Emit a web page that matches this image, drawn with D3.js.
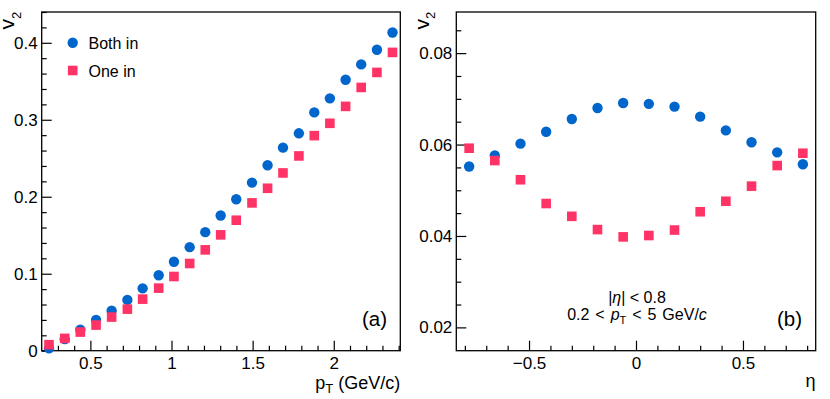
<!DOCTYPE html>
<html>
<head>
<meta charset="utf-8">
<script src="https://cdn.jsdelivr.net/npm/d3@7"></script>
<style>
  body { margin: 0; background: #fff; }
  svg { display: block; font-family: "Liberation Sans", Arial, Helvetica, sans-serif; }
</style>
</head>
<body>
<div id="chart"></div>
<script>
// pT dependence (panel a)
let ptBins = [0.245, 0.342, 0.438, 0.535, 0.631, 0.728, 0.822, 0.921, 1.015, 1.112, 1.208, 1.303,
              1.399, 1.496, 1.592, 1.687, 1.785, 1.880, 1.976, 2.073, 2.169, 2.266, 2.362];
let v2PtBoth = [0.003, 0.015, 0.0272, 0.040, 0.052, 0.066, 0.081, 0.098, 0.1155, 0.1345, 0.154, 0.1756,
                0.1968, 0.2184, 0.2409, 0.2638, 0.2824, 0.3096, 0.3278, 0.352, 0.3719, 0.391, 0.4134];
let v2PtOne = [0.0078, 0.016, 0.0242, 0.0333, 0.0437, 0.054, 0.067, 0.0813, 0.0964, 0.1133, 0.131, 0.1505,
               0.1695, 0.192, 0.211, 0.2309, 0.253, 0.2794, 0.2954, 0.3174, 0.342, 0.3615, 0.3875];

// eta dependence (panel b)
let etaBins = [-0.78, -0.66, -0.54, -0.42, -0.30, -0.18, -0.06, 0.06, 0.18, 0.30, 0.42, 0.54, 0.66, 0.78];
let v2EtaBoth = [0.0552, 0.0576, 0.0602, 0.0628, 0.0656, 0.0680, 0.0691, 0.0689, 0.0683, 0.0661, 0.0631, 0.0605, 0.0583, 0.0557];
let v2EtaOne = [0.0592, 0.0565, 0.0523, 0.0471, 0.0443, 0.0414, 0.0398, 0.0401, 0.0413, 0.0453, 0.0476, 0.0509, 0.0554, 0.0581];

// ticks
let ptMajor = [0.5, 1, 1.5, 2];
let ptMinor = [0.3, 0.4, 0.6, 0.7, 0.8, 0.9, 1.1, 1.2, 1.3, 1.4, 1.6, 1.7, 1.8, 1.9, 2.1, 2.2, 2.3, 2.4];
let v2PtMajor = [0, 0.1, 0.2, 0.3, 0.4];
let v2PtMinor = [0.02, 0.04, 0.06, 0.08, 0.12, 0.14, 0.16, 0.18, 0.22, 0.24, 0.26, 0.28, 0.32, 0.34, 0.36, 0.38, 0.42, 0.44];
let etaMajor = [-0.5, 0, 0.5];
let etaMinor = [-0.8, -0.7, -0.6, -0.4, -0.3, -0.2, -0.1, 0.1, 0.2, 0.3, 0.4, 0.6, 0.7, 0.8];
let v2EtaMajor = [0.02, 0.04, 0.06, 0.08];
let v2EtaMinor = [0.025, 0.03, 0.035, 0.045, 0.05, 0.055, 0.065, 0.07, 0.075, 0.085];

let seriesNames = ["Both in", "One in"];
let BLUE = "#0066cc";
let PINK = "#ff3366";

let W = 830, H = 399;
let TOP = 12, BOTTOM = 350.7;

let svg = d3.select("#chart").append("svg")
    .attr("width", W)
    .attr("height", H);

let fmt = d3.format("~g");

function drawPanel(opt) {
    let x = d3.scaleLinear().domain(opt.xDomain).range([opt.left, opt.right]);
    let y = d3.scaleLinear().domain(opt.yDomain).range([BOTTOM, TOP]);
    let g = svg.append("g");

    // ticks, pointing inward
    g.append("g").attr("transform", `translate(0,${BOTTOM})`)
        .call(d3.axisBottom(x).tickValues(opt.xMajor).tickSize(-10).tickPadding(6).tickFormat(fmt));
    g.append("g").attr("transform", `translate(0,${BOTTOM})`)
        .call(d3.axisBottom(x).tickValues(opt.xMinor).tickSize(-5).tickFormat(""));
    g.append("g").attr("transform", `translate(${opt.left},0)`)
        .call(d3.axisLeft(y).tickValues(opt.yMajor).tickSize(-10).tickPadding(4).tickFormat(fmt));
    g.append("g").attr("transform", `translate(${opt.left},0)`)
        .call(d3.axisLeft(y).tickValues(opt.yMinor).tickSize(-5).tickFormat(""));

    g.selectAll(".domain").remove();
    g.selectAll(".tick line").attr("stroke", "#000").attr("stroke-width", 1.2);
    g.selectAll(".tick text").attr("font-size", 17).attr("fill", "#000")
        .attr("font-family", "'Liberation Sans', Arial, sans-serif");

    // frame
    g.append("rect")
        .attr("x", opt.left).attr("y", TOP)
        .attr("width", opt.right - opt.left).attr("height", BOTTOM - TOP)
        .attr("fill", "none").attr("stroke", "#000").attr("stroke-width", 1.3);

    // points
    g.append("g").selectAll("circle")
        .data(opt.xs.map((d, i) => [d, opt.both[i]]))
        .enter().append("circle")
        .attr("cx", d => x(d[0]))
        .attr("cy", d => y(d[1]))
        .attr("r", 5.2)
        .attr("fill", BLUE);

    let s = 9.6;
    g.append("g").selectAll("rect")
        .data(opt.xs.map((d, i) => [d, opt.one[i]]))
        .enter().append("rect")
        .attr("x", d => x(d[0]) - s / 2)
        .attr("y", d => y(d[1]) - s / 2)
        .attr("width", s).attr("height", s)
        .attr("fill", PINK);

    // y title v2
    let yt = g.append("text")
        .attr("transform", `translate(${opt.left - 27.7},11.7) rotate(-90)`)
        .attr("text-anchor", "end")
        .attr("font-size", 21);
    yt.append("tspan").text("v");
    yt.append("tspan").attr("font-size", 13).attr("dy", 6.7).text("2");

    return {x: x, y: y, g: g};
}

// ---- panel (a)
let pa = drawPanel({
    left: 41.7, right: 400.3,
    xDomain: [0.2, 2.41], yDomain: [0, 0.44],
    xMajor: ptMajor, xMinor: ptMinor, yMajor: v2PtMajor, yMinor: v2PtMinor,
    xs: ptBins, both: v2PtBoth, one: v2PtOne
});

let xtA = pa.g.append("text")
    .attr("x", 400.3).attr("y", 388.5)
    .attr("text-anchor", "end")
    .attr("font-size", 18);
xtA.append("tspan").text("p");
xtA.append("tspan").attr("font-size", 13).attr("dy", 4).text("T");
xtA.append("tspan").attr("dy", -4).text(" (GeV/c)");

// legend
let legend = pa.g.append("g");
legend.append("circle").attr("cx", 72.7).attr("cy", 42.7).attr("r", 5.2).attr("fill", BLUE);
legend.append("rect").attr("x", 72.7 - 4.8).attr("y", 70.5 - 4.8).attr("width", 9.6).attr("height", 9.6).attr("fill", PINK);
legend.selectAll("text")
    .data(seriesNames)
    .enter().append("text")
    .attr("x", 88.5)
    .attr("y", (d, i) => 48.5 + i * 28)
    .attr("font-size", 16)
    .text(d => d);

pa.g.append("text")
    .attr("x", 387).attr("y", 325.5)
    .attr("text-anchor", "end")
    .attr("font-size", 20.5)
    .text("(a)");

// ---- panel (b)
let pb = drawPanel({
    left: 456.3, right: 815.7,
    xDomain: [-0.84, 0.84], yDomain: [0.0149, 0.089],
    xMajor: etaMajor, xMinor: etaMinor, yMajor: v2EtaMajor, yMinor: v2EtaMinor,
    xs: etaBins, both: v2EtaBoth, one: v2EtaOne
});

pb.g.append("text")
    .attr("x", 815.5).attr("y", 386.5)
    .attr("text-anchor", "end")
    .attr("font-size", 18)
    .text("η");

let ann1 = pb.g.append("text")
    .attr("x", 637).attr("y", 303.3)
    .attr("text-anchor", "middle")
    .attr("font-size", 16);
ann1.append("tspan").text("|");
ann1.append("tspan").attr("font-style", "italic").text("η");
ann1.append("tspan").text("| < 0.8");

let ann2 = pb.g.append("text")
    .attr("x", 637).attr("y", 319.5)
    .attr("text-anchor", "middle")
    .attr("font-size", 16)
    .attr("word-spacing", 1.5);
ann2.append("tspan").text("0.2 < ");
ann2.append("tspan").attr("font-style", "italic").text("p");
ann2.append("tspan").attr("font-size", 11).attr("dy", 4).text("T");
ann2.append("tspan").attr("dy", -4).text(" < 5 GeV/");
ann2.append("tspan").attr("font-style", "italic").text("c");

pb.g.append("text")
    .attr("x", 802).attr("y", 325.5)
    .attr("text-anchor", "end")
    .attr("font-size", 20.5)
    .text("(b)");
</script>
</body>
</html>
